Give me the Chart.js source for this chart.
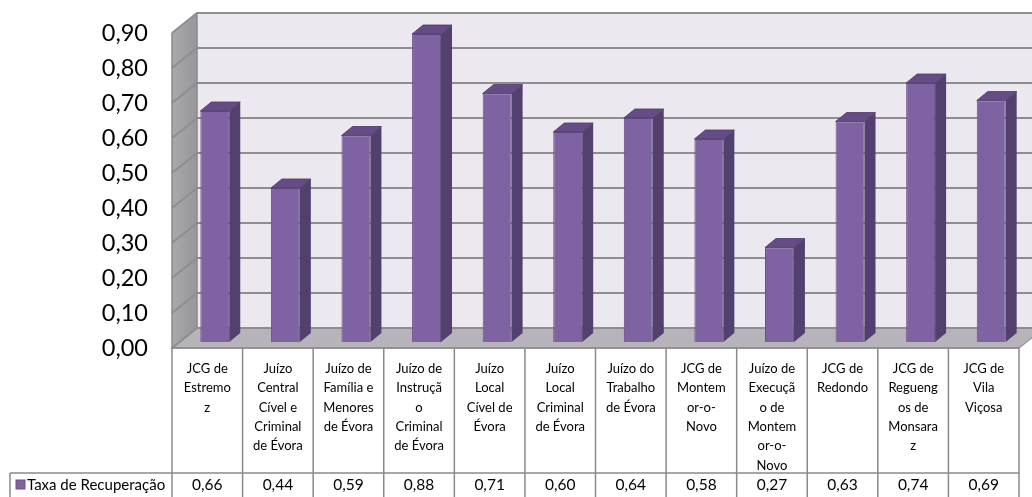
<!DOCTYPE html>
<html>
<head>
<meta charset="utf-8">
<script src="https://cdn.jsdelivr.net/npm/chart.js@4.4.1/dist/chart.umd.min.js"></script>
<style>
  html, body { margin: 0; padding: 0; background: #fff; }
</style>
</head>
<body>
<canvas id="chart1" width="1032" height="497"></canvas>
<script>
// data
const categories = [
  ['JCG de', 'Estremo', 'z'],
  ['Juízo', 'Central', 'Cível e', 'Criminal', 'de Évora'],
  ['Juízo de', 'Família e', 'Menores', 'de Évora'],
  ['Juízo de', 'Instruçã', 'o', 'Criminal', 'de Évora'],
  ['Juízo', 'Local', 'Cível de', 'Évora'],
  ['Juízo', 'Local', 'Criminal', 'de Évora'],
  ['Juízo do', 'Trabalho', 'de Évora'],
  ['JCG de', 'Montem', 'or-o-', 'Novo'],
  ['Juízo de', 'Execuçã', 'o de', 'Montem', 'or-o-', 'Novo'],
  ['JCG de', 'Redondo'],
  ['JCG de', 'Regueng', 'os de', 'Monsara', 'z'],
  ['JCG de', 'Vila', 'Viçosa']
];
const series_name = 'Taxa de Recuperação';
const recovery_rate = [0.66, 0.44, 0.59, 0.88, 0.71, 0.60, 0.64, 0.58, 0.27, 0.63, 0.74, 0.69];
const y_min = 0;
const y_max = 0.9;
const y_step = 0.1;

const fmt = v => v.toFixed(2).replace('.', ',');

// 3d look
const WALL_DX = 25, WALL_DY = 20;   // depth of the walls
const BAR_POS = 0.3;                // where the bars stand inside that depth
const BAR_DX = 11, BAR_DY = 9;      // depth of a bar
const FONT = 'Lato, "Open Sans", sans-serif';

const purple = '#7f62a1';
const purpleEdge = '#6a5189';
const purpleSide = '#54406e';
const purpleTop = '#654c86';
const gridColor = '#8e8e8e';
const tableLine = '#8a8a8a';

function geom(chart) {
  const a = chart.chartArea;
  const frontLeft = a.left - WALL_DX * BAR_POS;
  const frontRight = a.right - WALL_DX * BAR_POS;
  return {
    a,
    frontLeft,
    frontRight,
    backLeft: frontLeft + WALL_DX,
    backRight: frontRight + WALL_DX,
    toBack: y => y - WALL_DY * (1 - BAR_POS),
    toFront: y => y + WALL_DY * BAR_POS
  };
}

const walls3d = {
  id: 'walls3d',
  beforeDatasetsDraw(chart) {
    const ctx = chart.ctx;
    const g = geom(chart);
    const ys = chart.scales.y;
    const y0 = ys.getPixelForValue(y_min);
    const yTop = ys.getPixelForValue(y_max);
    ctx.save();

    // back wall
    ctx.fillStyle = '#ebe8f0';
    ctx.fillRect(g.backLeft, g.toBack(yTop), g.backRight - g.backLeft, g.toBack(y0) - g.toBack(yTop));

    // left wall
    let grad = ctx.createLinearGradient(g.frontLeft, 0, g.backLeft, 0);
    grad.addColorStop(0, '#a9a9ac');
    grad.addColorStop(1, '#96969b');
    ctx.fillStyle = grad;
    ctx.beginPath();
    ctx.moveTo(g.frontLeft, g.toFront(y0));
    ctx.lineTo(g.frontLeft, g.toFront(yTop));
    ctx.lineTo(g.backLeft, g.toBack(yTop));
    ctx.lineTo(g.backLeft, g.toBack(y0));
    ctx.closePath();
    ctx.fill();

    // floor
    ctx.fillStyle = '#b7b3bb';
    ctx.beginPath();
    ctx.moveTo(g.frontLeft, g.toFront(y0));
    ctx.lineTo(g.backLeft, g.toBack(y0));
    ctx.lineTo(g.backRight, g.toBack(y0));
    ctx.lineTo(g.frontRight, g.toFront(y0));
    ctx.closePath();
    ctx.fill();
    ctx.strokeStyle = '#9a979e';
    ctx.lineWidth = 1.5;
    ctx.stroke();

    // gridlines on back and left wall
    ctx.strokeStyle = gridColor;
    ctx.lineWidth = 2;
    ys.ticks.forEach(t => {
      const y = ys.getPixelForValue(t.value);
      ctx.beginPath();
      ctx.moveTo(g.frontLeft, g.toFront(y));
      ctx.lineTo(g.backLeft, g.toBack(y));
      ctx.lineTo(g.backRight, g.toBack(y));
      ctx.stroke();
    });

    // wall edges
    ctx.strokeStyle = '#8a8a8e';
    ctx.lineWidth = 1.5;
    ctx.beginPath();
    ctx.moveTo(g.frontLeft, g.toFront(y0));
    ctx.lineTo(g.frontLeft, g.toFront(yTop));
    ctx.moveTo(g.backLeft, g.toBack(yTop));
    ctx.lineTo(g.backLeft, g.toBack(y0));
    ctx.stroke();
    ctx.restore();
  },

  afterDatasetsDraw(chart) {
    const ctx = chart.ctx;
    ctx.save();
    chart.getDatasetMeta(0).data.forEach(bar => {
      const p = bar.getProps(['x', 'y', 'base', 'width'], true);
      const L = p.x - p.width / 2, R = p.x + p.width / 2;
      // side
      ctx.fillStyle = purpleSide;
      ctx.beginPath();
      ctx.moveTo(R, p.y);
      ctx.lineTo(R + BAR_DX, p.y - BAR_DY);
      ctx.lineTo(R + BAR_DX, p.base - BAR_DY);
      ctx.lineTo(R, p.base);
      ctx.closePath();
      ctx.fill();
      // top
      ctx.fillStyle = purpleTop;
      ctx.beginPath();
      ctx.moveTo(L, p.y);
      ctx.lineTo(L + BAR_DX, p.y - BAR_DY);
      ctx.lineTo(R + BAR_DX, p.y - BAR_DY);
      ctx.lineTo(R, p.y);
      ctx.closePath();
      ctx.fill();
      ctx.strokeStyle = '#4d3a66';
      ctx.lineWidth = 0.8;
      ctx.stroke();
    });
    ctx.restore();
  },

  // data table under the chart
  afterDraw(chart) {
    const ctx = chart.ctx;
    const g = geom(chart);
    const xs = chart.scales.x;
    const y0 = g.toFront(chart.scales.y.getPixelForValue(y_min));
    const n = categories.length;
    const colW = (g.a.right - g.a.left) / n;
    const rowTop = 473, rowBottom = 497, legendLeft = 10;
    ctx.save();
    ctx.strokeStyle = tableLine;
    ctx.lineWidth = 1.5;
    ctx.beginPath();
    for (let i = 0; i <= n; i++) {
      const x = g.frontLeft + i * colW;
      ctx.moveTo(x, y0);
      ctx.lineTo(x, rowBottom);
    }
    ctx.moveTo(g.frontLeft, y0);
    ctx.lineTo(g.frontRight, y0);
    ctx.moveTo(legendLeft, rowTop);
    ctx.lineTo(g.frontRight, rowTop);
    ctx.moveTo(legendLeft, rowTop);
    ctx.lineTo(legendLeft, rowBottom);
    ctx.stroke();

    ctx.fillStyle = '#000';
    ctx.font = '15.5px ' + FONT;
    ctx.textAlign = 'center';
    ctx.textBaseline = 'middle';
    recovery_rate.forEach((v, i) => {
      const x = xs.getPixelForValue(i) - WALL_DX * BAR_POS;
      ctx.fillText(fmt(v), x, (rowTop + rowBottom) / 2);
    });

    // legend key
    ctx.fillStyle = purple;
    ctx.fillRect(16, 480, 9, 9);
    ctx.strokeStyle = purpleEdge;
    ctx.lineWidth = 1;
    ctx.strokeRect(16, 480, 9, 9);
    ctx.fillStyle = '#000';
    ctx.textAlign = 'left';
    ctx.font = '15px ' + FONT;
    ctx.fillText(series_name, 27, (rowTop + rowBottom) / 2);
    ctx.restore();
  }
};

const ctx1 = document.getElementById('chart1').getContext('2d');

const my_chart = new Chart(ctx1, {
  type: 'bar',
  data: {
    labels: categories,
    datasets: [{
      label: series_name,
      data: recovery_rate,
      backgroundColor: purple,
      borderColor: purpleEdge,
      borderWidth: 1,
      categoryPercentage: 1,
      barPercentage: 0.41
    }]
  },
  options: {
    responsive: false,
    animation: false,
    layout: { padding: { top: 27, right: 5.5, bottom: 24, left: 0 } },
    plugins: {
      legend: { display: false },
      tooltip: { enabled: false }
    },
    scales: {
      x: {
        grid: { display: false },
        border: { display: false },
        ticks: {
          color: '#000',
          font: { family: FONT, size: 13, lineHeight: '19.4px' },
          padding: 9,
          labelOffset: -WALL_DX * BAR_POS,
          maxRotation: 0,
          autoSkip: false
        },
        afterFit: scale => { scale.height = 131; }
      },
      y: {
        min: y_min,
        max: y_max,
        grid: { display: false },
        border: { display: false },
        ticks: {
          stepSize: y_step,
          color: '#000',
          font: { family: FONT, size: 23.5 },
          padding: 23.5,
          labelOffset: WALL_DY * BAR_POS,
          callback: v => fmt(v)
        },
        afterFit: scale => {
          scale.width = 179.5;
          scale.paddingTop = 0;
          scale.paddingBottom = 0;
        }
      }
    }
  },
  plugins: [walls3d]
});
</script>
</body>
</html>
